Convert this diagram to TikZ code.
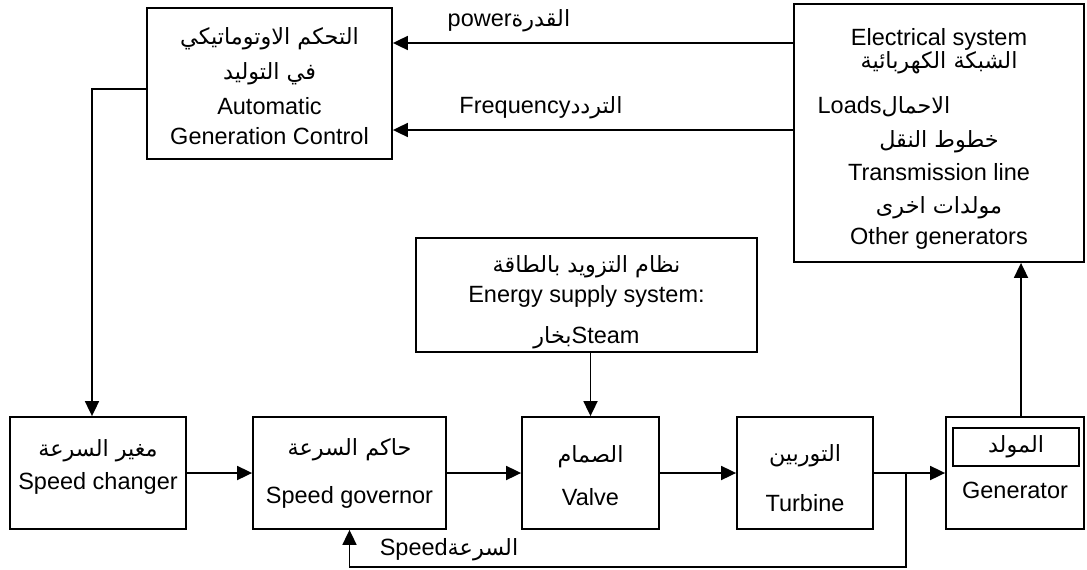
\documentclass[tikz,border=0pt]{standalone}
\usepackage{fontspec}
\setmainfont{Liberation Sans}
\newfontfamily\arabicfont[Script=Arabic,Scale=0.95]{DejaVu Sans}
\TeXXeTstate=1
\usetikzlibrary{arrows.meta}
\newcommand{\ar}[1]{{\arabicfont\beginR #1\endR}}
\setlength{\lineskiplimit}{-50pt}

\begin{document}
\begin{tikzpicture}[x=1pt,y=-1pt,
    box/.style={draw,line width=1.8pt,inner sep=0pt,align=center},
    con/.style={line width=1.8pt},
    arr/.style={con,-{Triangle[length=15pt,width=14pt]}},
    lbl/.style={inner sep=0pt},
    font=\fontsize{23.5}{27}\selectfont]
  \useasboundingbox (0,0) rectangle (1087,570);
  % upper blocks
  \node[box,minimum width=245pt,minimum height=151pt] (agc) at (269.5,83.5)
    {\mbox{}\\[-4pt]\ar{التحكم الاوتوماتيكي}\\[8pt]\ar{في التوليد}\\[8pt]Automatic\\[3pt]Generation Control};
  \node[box,minimum width=290pt,minimum height=258pt] (elec) at (939,133)
    {\mbox{}\\[2pt]Electrical system\\[-4pt]\ar{الشبكة الكهربائية}\\[18pt]Loads\ar{الاحمال}\rule{110pt}{0pt}\\[7pt]\ar{خطوط النقل}\\[6pt]Transmission line\\[6pt]\ar{مولدات اخرى}\\[4pt]Other generators};
  \node[box,minimum width=341pt,minimum height=114pt] (energy) at (586.5,295)
    {\mbox{}\\[4pt]\ar{نظام التزويد بالطاقة}\\[3pt]Energy supply system:\\[14pt]\ar{بخار}Steam};
  % lower chain
  \node[box,minimum width=176pt,minimum height=112pt] (changer) at (98,473)
    {\ar{مغير السرعة}\\[6pt]Speed changer\\[-10pt]\mbox{}};
  \node[box,minimum width=193pt,minimum height=112pt] (governor) at (349.5,473)
    {\ar{حاكم السرعة}\\[21pt]Speed governor};
  \node[box,minimum width=137pt,minimum height=112pt] (valve) at (590.5,473)
    {\mbox{}\\[-4pt]\ar{الصمام}\\[16pt]Valve};
  \node[box,minimum width=136pt,minimum height=112pt] (turbine) at (805,473)
    {\mbox{}\\[0pt]\ar{التوربين}\\[23pt]Turbine};
  \node[box,minimum width=138pt,minimum height=112pt] (gen) at (1015,473)
    {\mbox{}\\[24pt]Generator};
  \node[box,minimum width=126pt,minimum height=38pt] (genar) at (1016,447) {\ar{المولد}};
  % signals
  \draw[arr] (elec.west |- 0,43) -- node[lbl,above=10pt,pos=0.71] (power) {power\ar{القدرة}} (agc.east |- 0,43);
  \draw[arr] (elec.west |- 0,130) -- node[lbl,above=10pt,pos=0.63] (freq) {Frequency\ar{التردد}} (agc.east |- 0,130);
  \draw[arr] (agc.west |- 0,89) -| ([xshift=-6pt]changer.north);
  \draw[arr] (changer) -- (governor);
  \draw[arr] (governor) -- (valve);
  \draw[arr] (valve) -- (turbine);
  \draw[arr] (turbine) -- (gen);
  \draw[arr] (energy.south -| valve.north) -- (valve.north);
  \draw[arr] (gen.north -| 1021,0) -- (elec.south -| 1021,0);
  % speed feedback
  \coordinate (tap) at (906,473);
  \draw[arr] (tap) -- (tap |- 0,567) -| (governor.south);
  \node[lbl] (speed) at (449,550) {Speed\ar{السرعة}};
\end{tikzpicture}
\end{document}
